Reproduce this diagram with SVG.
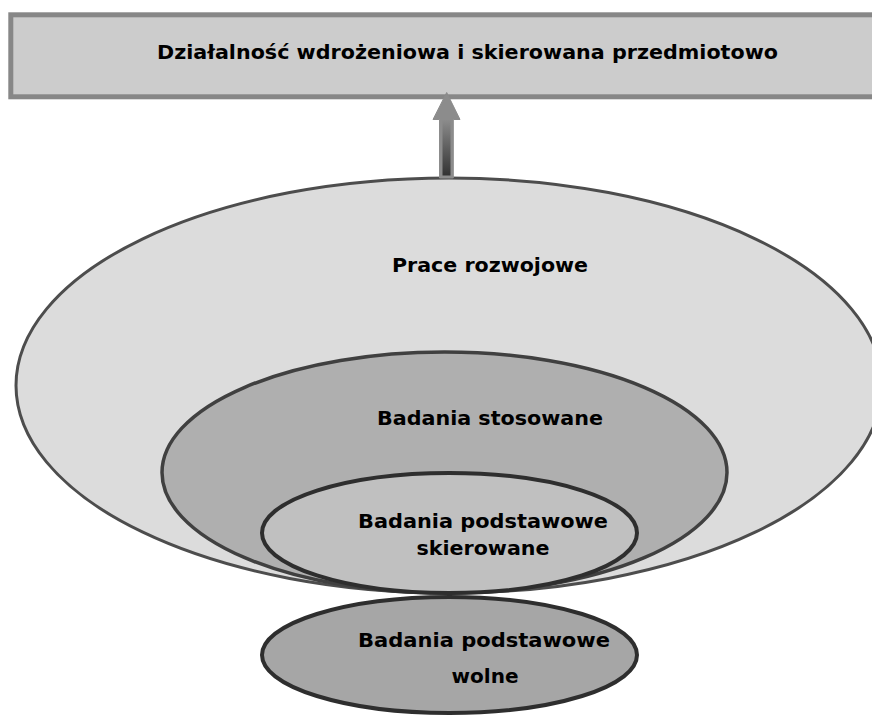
<svg xmlns="http://www.w3.org/2000/svg" width="872" height="717" viewBox="0 0 872 717">
<style>
  .lbl { font-family: "DejaVu Sans", "Liberation Sans", sans-serif; font-weight: bold; font-size: 20px; fill: #000; text-anchor: middle; }
</style>
<defs>
  <linearGradient id="arrowGrad" x1="0" y1="0" x2="0" y2="1">
    <stop offset="0" stop-color="#8c8c8c"/>
    <stop offset="1" stop-color="#333333"/>
  </linearGradient>
</defs>
<rect width="872" height="717" fill="#ffffff"/>
<g id="top-box">
  <rect x="10.8" y="14.8" width="870" height="82" fill="#cccccc" stroke="#878787" stroke-width="5"/>
  <text class="lbl" x="467.5" y="59" textLength="621" lengthAdjust="spacingAndGlyphs">Działalność wdrożeniowa i skierowana przedmiotowo</text>
</g>
<g id="prace-rozwojowe">
  <ellipse cx="449" cy="385.5" rx="433" ry="207.5" fill="#dcdcdc" stroke="#4d4d4d" stroke-width="3"/>
  <text class="lbl" x="490" y="272" textLength="196" lengthAdjust="spacingAndGlyphs">Prace rozwojowe</text>
</g>
<g id="badania-stosowane">
  <ellipse cx="444.5" cy="472.5" rx="282.5" ry="120.5" fill="#afafaf" stroke="#404040" stroke-width="3.5"/>
  <text class="lbl" x="490" y="425" textLength="226" lengthAdjust="spacingAndGlyphs">Badania stosowane</text>
</g>
<g id="badania-podstawowe-skierowane">
  <ellipse cx="449.5" cy="533" rx="187.5" ry="60" fill="#c0c0c0" stroke="#2e2e2e" stroke-width="4"/>
  <text class="lbl" x="483" y="528" textLength="250" lengthAdjust="spacingAndGlyphs">Badania podstawowe</text>
  <text class="lbl" x="483" y="555" textLength="133" lengthAdjust="spacingAndGlyphs">skierowane</text>
</g>
<g id="badania-podstawowe-wolne">
  <ellipse cx="449.5" cy="655" rx="187.5" ry="58" fill="#a6a6a6" stroke="#2e2e2e" stroke-width="4"/>
  <text class="lbl" x="484" y="647" textLength="252" lengthAdjust="spacingAndGlyphs">Badania podstawowe</text>
  <text class="lbl" x="485" y="683" textLength="67" lengthAdjust="spacingAndGlyphs">wolne</text>
</g>
<g id="connectors">
  <polygon points="446.7,92.5 460,119.5 453.3,119.5 453.3,178 439.5,178 439.5,119.5 433,119.5" fill="#8c8c8c" stroke="#8c8c8c" stroke-width="1"/>
  <rect x="442.5" y="119.5" width="8" height="56" fill="url(#arrowGrad)"/>
</g>
</svg>
